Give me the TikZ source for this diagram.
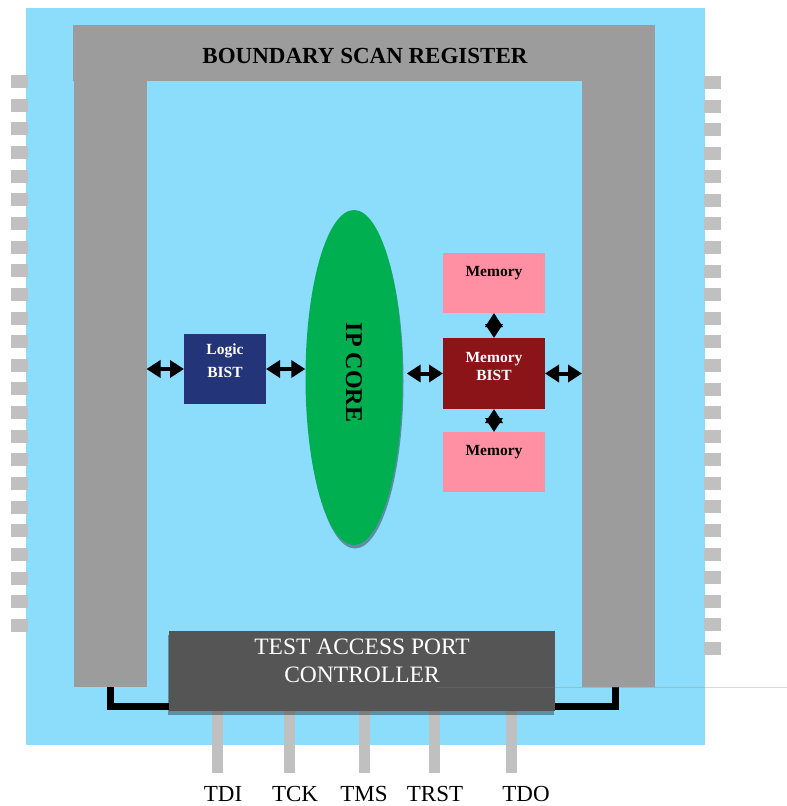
\documentclass[tikz,border=0pt]{standalone}
\usepackage{fontspec}
\setmainfont{Liberation Serif}
\usetikzlibrary{positioning,shapes.geometric,arrows.meta,shadows}

\definecolor{chipblue}{RGB}{140,220,252}
\definecolor{scangray}{RGB}{156,156,156}
\definecolor{pingray}{RGB}{192,192,192}
\definecolor{coregreen}{RGB}{0,176,80}
\definecolor{logicblue}{RGB}{36,52,120}
\definecolor{bistred}{RGB}{138,20,24}
\definecolor{mempink}{RGB}{255,143,163}
\definecolor{tapgray}{RGB}{85,85,85}

\begin{document}
\begin{tikzpicture}[x=1pt,y=-1pt]
        \tikzstyle{block} = [rectangle, inner sep=0pt, outer sep=0pt]
        \tikzstyle{chippin} = [block, fill=pingray, minimum width=17pt, minimum height=13pt]
        \tikzstyle{jtagpin} = [block, fill=pingray, minimum width=11pt, minimum height=62pt, anchor=north]
        \tikzstyle{arm} = [block, fill=scangray, minimum width=73pt, minimum height=607pt]
        \tikzstyle{bist} = [block, minimum width=102pt, minimum height=71pt]
        \tikzstyle{mem} = [block, fill=mempink, minimum width=102pt, minimum height=60pt]
        \tikzstyle{boldtext} = [inner sep=0pt, align=center, font=\bfseries\fontsize{15.5}{18}\selectfont]
        \tikzstyle{link} = [<->, >={Triangle[length=14pt,width=17pt]}, line width=4pt]
        \tikzstyle{bus} = [line width=7pt]
        \tikzstyle{pinname} = [inner sep=0pt, font=\fontsize{23}{26}\selectfont]

        \useasboundingbox (0,0) rectangle (787,806);

        \node(chip) [block, fill=chipblue, minimum width=679pt, minimum height=737pt] at (365.5,376.5) {};

        \foreach \i in {0,...,23}
            \node(lpin\i) [chippin] at (19.5,81.5+23.65*\i) {};
        \foreach \i in {0,...,24}
            \node(rpin\i) [chippin] at (712.5,82.5+23.58*\i) {};

        \node(topbar) [block, fill=scangray, minimum width=582pt, minimum height=56pt] at (364,53) {};
        \node(leftarm) [arm] at (110,383.5) {};
        \node(rightarm) [arm] at (618.5,383.5) {};
        \node(bsrtext) [inner sep=0pt, font=\bfseries\fontsize{23}{26}\selectfont] at (365,56) {BOUNDARY SCAN REGISTER};

        \node(core) [ellipse, fill=coregreen, minimum width=97pt, minimum height=335pt, inner sep=0pt,
            drop shadow={shadow xshift=1pt, shadow yshift=-3.5pt, opacity=0.35, fill=black}] at (354,377.5) {};
        \node(coretext) [rotate=-90, inner sep=0pt, font=\bfseries\fontsize{24}{28}\selectfont] at ([yshift=5pt]core.center) {IP CORE};

        \node(logic) [block, fill=logicblue, minimum width=82pt, minimum height=70pt] at (225,369) {};
        \node(logictext) [boldtext, text=white] at ([yshift=8pt]logic.center) {Logic\\[5pt]BIST};

        \node(membist) [bist, fill=bistred] at (494,373.5) {};
        \node(membisttext) [boldtext, text=white] at ([yshift=7pt]membist.center) {Memory\\BIST};
        \node(memtop) [mem, above=25pt of membist] {};
        \node(memtoptext) [boldtext] at ([yshift=-20pt]memtop.north) {Memory};
        \node(membot) [mem, below=23pt of membist] {};
        \node(membottext) [boldtext] at ([yshift=-20pt]membot.north) {Memory};

        \draw[link] (leftarm.east |- logic.west) -- (logic.west);
        \draw[link] (logic.east) -- (core.west |- logic.east);
        \draw[link] ([xshift=4pt]core.east |- membist.west) -- (membist.west);
        \draw[link] (membist.east) -- (rightarm.west |- membist.east);
        \draw[link] (memtop.south) -- (membist.north);
        \draw[link] (membist.south) -- (membot.north);

        \foreach \x/\lx/\name in {217.5/223/TDI, 289/295/TCK, 364/364/TMS, 434/435/TRST, 511/526/TDO} {
            \node(pin\name) [jtagpin] at (\x,711) {};
            \node(lbl\name) [pinname] at (\lx,794) {\name};
        }

        \node(tap) [block, fill=tapgray, minimum width=386pt, minimum height=80pt,
            drop shadow={shadow xshift=-1pt, shadow yshift=-4pt, opacity=0.35, fill=black}] at (362,671) {};
        \draw[bus] ([yshift=4.5pt]tap.south west) -| (leftarm.south);
        \draw[bus] ([yshift=4.5pt]tap.south east) -| ([xshift=-3.5pt]rightarm.south);
        \node(taptext) [text=white, align=center, inner sep=0pt, font=\fontsize{23.5}{28}\selectfont] at ([yshift=10pt]tap.center) {TEST ACCESS PORT\\CONTROLLER};

        \coordinate (streakstart) at (437,687);
        \coordinate (streakend) at (787,687);
        \draw[gray, opacity=0.3, line width=0.8pt] (streakstart) -- (streakend);
    \end{tikzpicture}
\end{document}
